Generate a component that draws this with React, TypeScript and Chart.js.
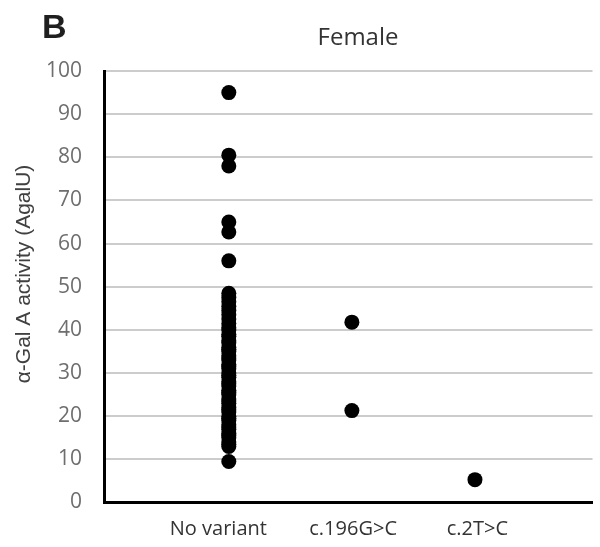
import React, { useEffect, useRef } from "react";
import { Chart, registerables } from "chart.js";

Chart.register(...registerables);

// ---- data ----
const categories = ["No variant", "c.196G>C", "c.2T>C"];
const noVariantValues = [
  95, 80.5, 78, 65, 62.7, 56, 48.5, 47.5, 46.5, 45.5, 44.5, 43.5, 42.5, 41.5,
  40.5, 40, 39, 38.5, 37.5, 37, 36, 35.5, 35, 34, 33.5, 33, 32, 31.5, 31, 30,
  29.5, 29, 28, 27.5, 27, 26, 25.5, 25, 24, 23.5, 23, 22, 21.5, 21, 20, 19.5,
  19, 18, 17.5, 17, 16, 15.5, 15, 14, 13.5, 13, 9.5,
];
const c196GCValues = [41.8, 21.3];
const c2TCValues = [5.3];
const seriesValues = [noVariantValues, c196GCValues, c2TCValues];
const yMin = 0;
const yMax = 100;
const yStep = 10;

const panelLabel = "B";
const chartTitle = "Female";
const yTitle = "\u03b1-Gal A activity (AgalU)";

// ---- styles ----
const xLabelNudge = [-0.085, 0.01, 0.02];
const FONT = '"Open Sans", "Noto Sans", sans-serif';
const ARIAL = '"Liberation Sans", Arial, sans-serif';

const textPlugin = {
  id: "panelTexts",
  afterDraw(chart: any) {
    const ctx = chart.ctx as CanvasRenderingContext2D;
    ctx.save();
    ctx.fillStyle = "#1f1f1f";
    ctx.font = "bold 34px " + ARIAL;
    ctx.textAlign = "left";
    ctx.textBaseline = "alphabetic";
    ctx.fillText(panelLabel, 42, 38);

    ctx.fillStyle = "#333333";
    ctx.font = "24px " + FONT;
    ctx.textAlign = "center";
    ctx.fillText(chartTitle, 358, 45);

    ctx.translate(30, 274);
    ctx.rotate(-Math.PI / 2);
    ctx.fillStyle = "#404040";
    ctx.font = "21px " + ARIAL;
    ctx.textAlign = "center";
    ctx.textBaseline = "alphabetic";
    ctx.fillText(yTitle, 0, 0);
    ctx.restore();
  },
};

export default function App() {
  const canvasRef = useRef<HTMLCanvasElement | null>(null);

  useEffect(() => {
    if (!canvasRef.current) return;
    const datasets = categories.map((cat, i) => ({
      label: cat,
      data: seriesValues[i].map((v) => ({ x: i + 1, y: v })),
      backgroundColor: "#000000",
      borderColor: "#000000",
      borderWidth: 0,
      pointRadius: 7.5,
      pointHoverRadius: 7.5,
    }));

    const chart = new Chart(canvasRef.current, {
      type: "scatter",
      data: { datasets },
      options: {
        animation: false,
        responsive: false,
        events: [],
        layout: { padding: { top: 71, left: 0, right: 0, bottom: 0 } },
        plugins: {
          legend: { display: false },
          tooltip: { enabled: false },
          title: { display: false },
        },
        scales: {
          x: {
            type: "linear",
            position: "bottom",
            min: -0.01,
            max: 3.955,
            afterFit: (scale: any) => {
              scale.height = 44.5;
            },
            afterBuildTicks: (scale: any) => {
              scale.ticks = categories.map((_, i) => ({ value: i + 1 + xLabelNudge[i] }));
            },
            grid: { display: false, drawTicks: false },
            border: { display: true, color: "#000000", width: 3 },
            ticks: {
              autoSkip: false,
              maxRotation: 0,
              padding: 15,
              color: "#333333",
              font: { family: FONT, size: 20 },
              callback: (_v: any, idx: number) => categories[idx],
            },
          },
          y: {
            type: "linear",
            position: "left",
            min: yMin,
            max: yMax,
            afterFit: (scale: any) => {
              scale.width = 104.5;
            },
            grid: {
              display: true,
              drawOnChartArea: true,
              color: "#cccccc",
              lineWidth: 2,
              drawTicks: false,
            },
            border: { display: true, color: "#000000", width: 3 },
            ticks: {
              stepSize: yStep,
              padding: 22.5,
              color: "#6e6e6e",
              font: { family: FONT, size: 21 },
            },
          },
        },
      },
      plugins: [textPlugin],
    });
    return () => chart.destroy();
  }, []);

  return (
    <div style={{ position: "absolute", left: 0, top: 0, width: 600, height: 547, background: "#ffffff" }}>
      <canvas ref={canvasRef} width={600} height={547} style={{ width: 600, height: 547, display: "block" }} />
    </div>
  );
}
